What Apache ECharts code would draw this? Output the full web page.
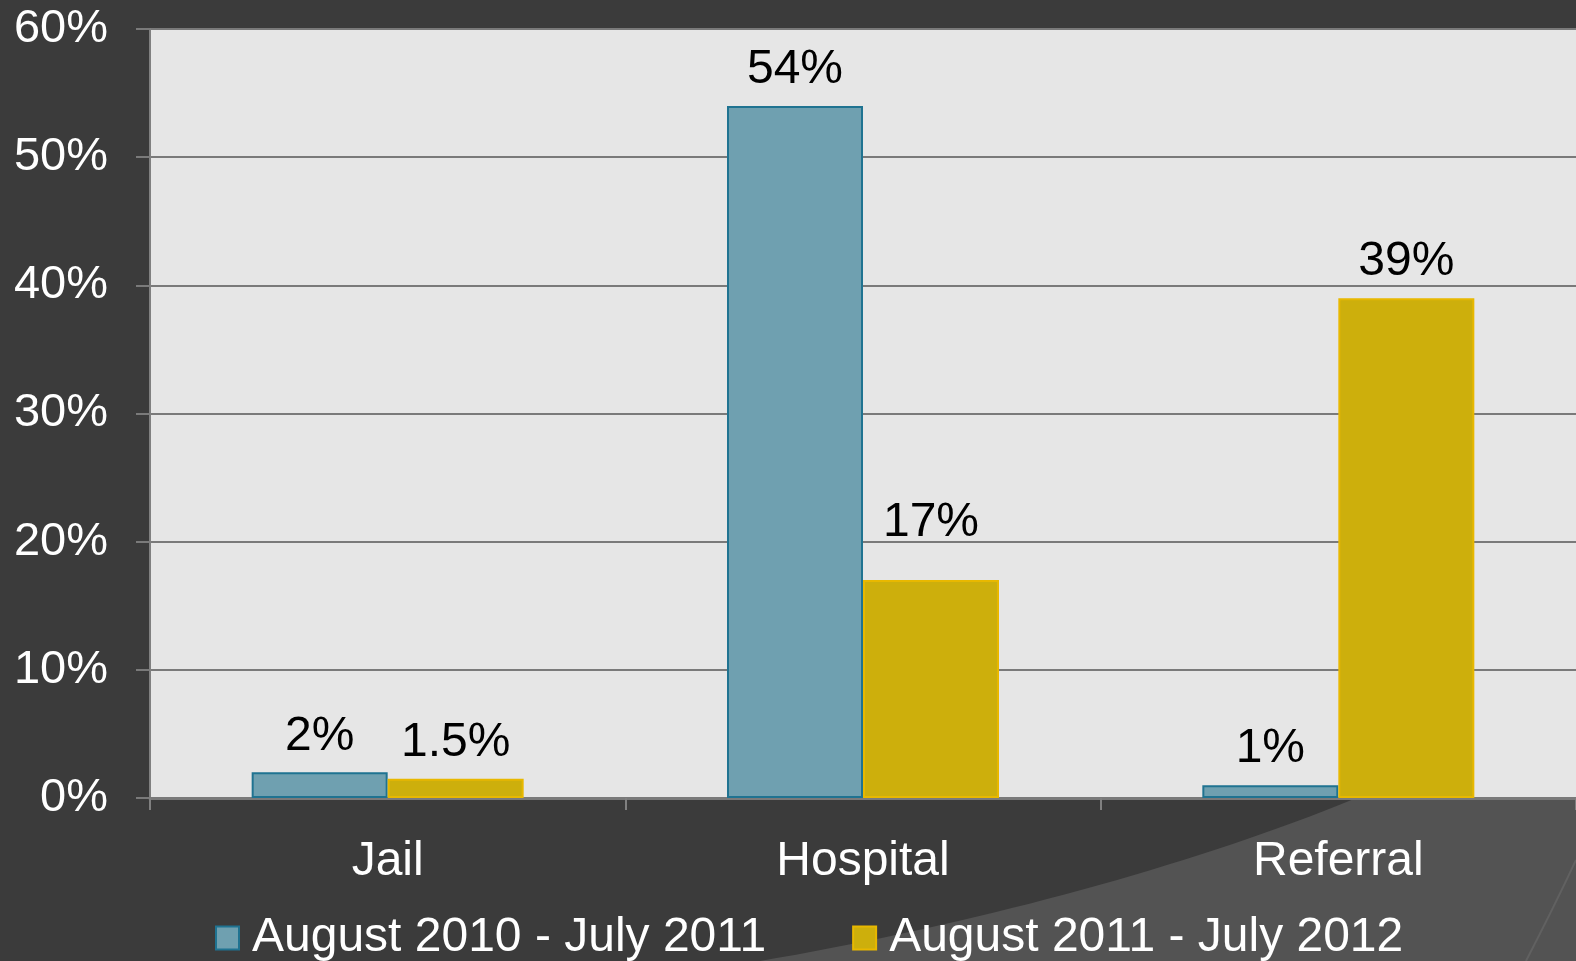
<!DOCTYPE html>
<html>
<head>
<meta charset="utf-8">
<script src="https://cdn.jsdelivr.net/npm/echarts@6/dist/echarts.min.js"></script>
<style>
  html, body { margin: 0; padding: 0; background: #3b3b3b; }
  #chart { width: 1576px; height: 961px; }
</style>
</head>
<body>
<div id="chart"></div>
<script>
// chart data
const categories = ['Jail', 'Hospital', 'Referral'];
const seriesNames = ['August 2010 - July 2011', 'August 2011 - July 2012'];
const period1 = [2, 54, 1];
const period2 = [1.5, 17, 39];
const yTicks = [0, 10, 20, 30, 40, 50, 60];

const font = "'Liberation Sans', Arial, sans-serif";
const myChart = echarts.init(document.getElementById('chart'));

// background swoosh (decoration only)
const swoosh = [];
const p0 = [760, 961], c1 = [1000, 920], c2 = [1250, 850], p3 = [1420, 770];
for (let i = 0; i <= 40; i++) {
    const t = i / 40, u = 1 - t;
    const a = u * u * u, b = 3 * u * u * t, c = 3 * u * t * t, d = t * t * t;
    swoosh.push([a * p0[0] + b * c1[0] + c * c2[0] + d * p3[0],
                 a * p0[1] + b * c1[1] + c * c2[1] + d * p3[1]]);
}
swoosh.push([1576, 770], [1576, 961]);

const labelStyle = {
    show: true,
    position: 'top',
    distance: 12,
    color: '#000',
    fontSize: 48,
    fontFamily: font,
    formatter: p => p.value + '%'
};

const option = {
    backgroundColor: '#3b3b3b',
    animation: false,
    graphic: [
        {
            type: 'polygon',
            z: -1,
            shape: { points: swoosh },
            style: { fill: '#535353' }
        },
        {
            type: 'bezierCurve',
            z: -1,
            shape: { x1: 1526, y1: 961, x2: 1576, y2: 860, cpx1: 1555, cpy1: 905 },
            style: { fill: null, stroke: '#616161', lineWidth: 2 }
        }
    ],
    grid: {
        left: 150,
        top: 29,
        right: 0,
        bottom: 163,
        show: true,
        backgroundColor: '#e6e6e6',
        borderWidth: 0
    },
    legend: {
        data: seriesNames,
        left: 210,
        top: 909,
        itemWidth: 23,
        itemHeight: 23,
        itemGap: 86,
        icon: 'rect',
        textStyle: { color: '#fff', fontSize: 48, fontFamily: font, padding: [0, 0, 0, 8] }
    },
    xAxis: {
        type: 'category',
        data: categories,
        axisLine: { lineStyle: { color: '#7a7a7a', width: 3 } },
        axisTick: { show: true, length: 12, lineStyle: { color: '#808080', width: 2 } },
        axisLabel: { color: '#fff', fontSize: 48, fontFamily: font, margin: 40 }
    },
    yAxis: {
        type: 'value',
        min: yTicks[0],
        max: yTicks[yTicks.length - 1],
        interval: 10,
        axisLine: { show: true, lineStyle: { color: '#808080', width: 2 } },
        axisTick: { show: true, length: 14, lineStyle: { color: '#7a7a7a', width: 2 } },
        splitLine: { lineStyle: { color: '#7a7a7a', width: 2 } },
        axisLabel: { color: '#fff', fontSize: 47, fontFamily: font, margin: 42, formatter: '{value}%' }
    },
    series: [
        {
            name: seriesNames[0],
            type: 'bar',
            barWidth: 136,
            barGap: 0,
            itemStyle: { color: '#6fa0b0', borderColor: '#1f7391', borderWidth: 2 },
            label: labelStyle,
            data: period1
        },
        {
            name: seriesNames[1],
            type: 'bar',
            barWidth: 136,
            barGap: 0,
            itemStyle: { color: '#cdaf0c', borderColor: '#e8b800', borderWidth: 2 },
            label: labelStyle,
            // the 17% label sits higher in the original
            data: period2.map((v, i) => i === 1 ? { value: v, label: { distance: 33 } } : v)
        }
    ]
};
myChart.setOption(option);
</script>
</body>
</html>
